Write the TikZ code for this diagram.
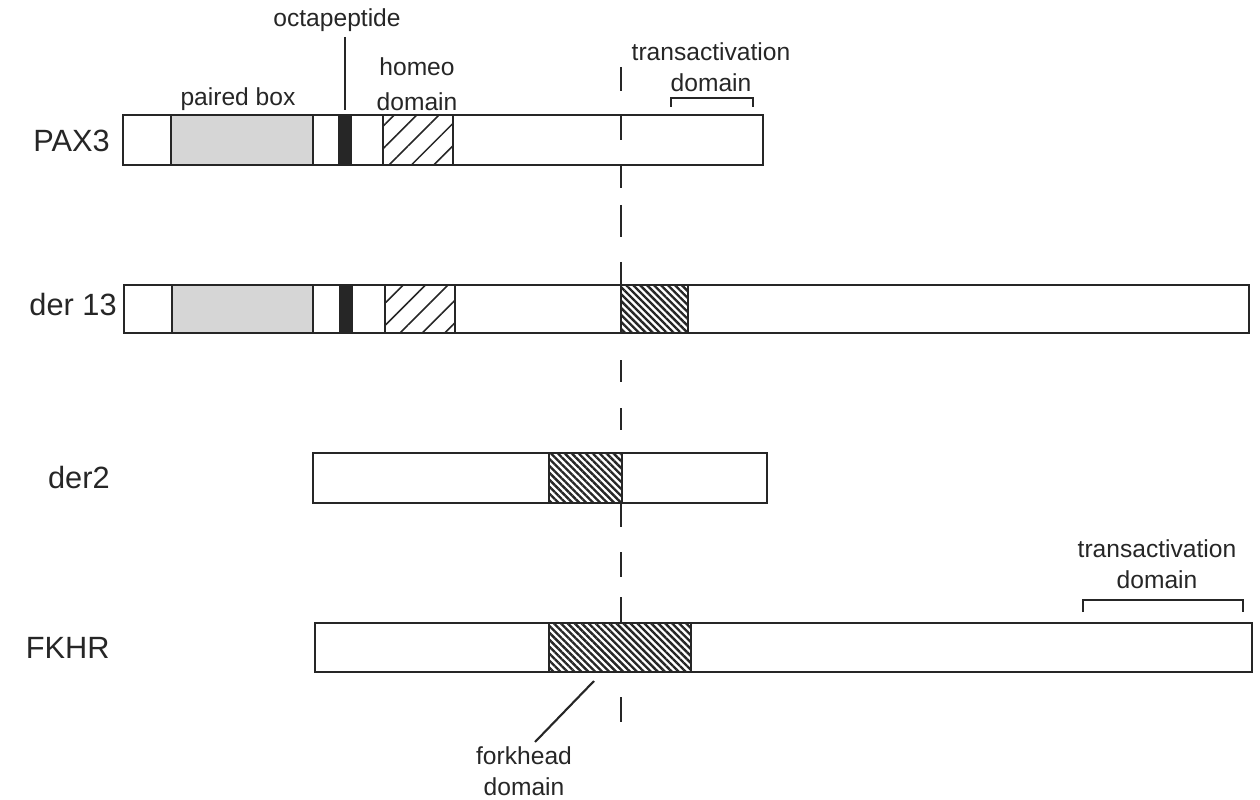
\documentclass[tikz,border=0pt]{standalone}
\usepackage{fontspec}
\setmainfont{Liberation Sans}
\usetikzlibrary{positioning,patterns.meta}
\definecolor{ink}{HTML}{262626}
\definecolor{boxgray}{HTML}{D6D6D6}
\tikzset{
    domainmap/.style={
        x=0.02cm, y=-0.02cm,
        % Stile per le barre delle proteine
        protbar/.style={draw=ink, line width=1.2pt},
        % Stile per il paired box (grigio)
        pairedbox/.style={draw=ink, line width=1.2pt, fill=boxgray},
        % Stile per l'octapeptide (nero)
        octabox/.style={draw=ink, line width=0.5pt, fill=ink},
        % Stile per l'homeo domain (tratteggio largo)
        homeobox/.style={draw=ink, line width=1.2pt,
                         pattern={Lines[angle=45,distance=9pt,line width=0.9pt]},
                         pattern color=ink},
        % Stile per il forkhead domain (tratteggio fitto)
        forkbox/.style={draw=ink, line width=1.2pt,
                        pattern={Lines[angle=-45,distance=2.8pt,line width=1.35pt]},
                        pattern color=ink},
        % Stile per i nomi e le etichette
        protname/.style={font=\fontsize{17.5}{21}\selectfont, text=ink,
                         anchor=east, inner sep=0pt},
        featlabel/.style={font=\fontsize{14}{17.5}\selectfont, text=ink,
                          align=center, inner sep=0pt},
        leader/.style={draw=ink, line width=1.2pt}
    }
}

\begin{document}
\begin{tikzpicture}[domainmap]
    \useasboundingbox (0,0) rectangle (1260,800);
    % PAX3
    \draw[pairedbox] (171,115) rectangle (313,165);
    \draw[octabox] (338,115) rectangle (351,165);
    \draw[homeobox] (383,115) rectangle (453,165);
    \draw[protbar] (123,115) rectangle (763,165);
    % der 13
    \draw[pairedbox] (172,285) rectangle (313,333);
    \draw[octabox] (339,285) rectangle (352,333);
    \draw[homeobox] (385,285) rectangle (455,333);
    \draw[forkbox] (621,285) rectangle (688,333);
    \draw[protbar] (124,285) rectangle (1249,333);
    % der2
    \draw[forkbox] (549,453) rectangle (622,503);
    \draw[protbar] (313,453) rectangle (767,503);
    % FKHR
    \draw[forkbox] (549,623) rectangle (691,672);
    \draw[protbar] (315,623) rectangle (1252,672);
    % linea di rottura
    \foreach \ya/\yb in {67/91, 115/140, 165/188, 205/237, 262/285,
                         360/382, 408/430, 503/527, 552/577, 597/623, 697/722}
        \draw[leader] (621,\ya) -- (621,\yb);

    \node[protname] (pax3) at (110,141) {PAX3};
    \node[protname] (der13) at (117,305) {der 13};
    \node[protname] (der2) at (110,478) {der2};
    \node[protname] (fkhr) at (110,648) {FKHR};

    \node[featlabel] (octa) at (337,20) {octapeptide};
    \node[featlabel] (paired) at (238,99) {paired box};
    \node[featlabel, font=\fontsize{14}{20}\selectfont] (homeo) at (417,84) {homeo\\domain};
    \node[featlabel] (transtop) at (711,67) {transactivation\\domain};
    \node[featlabel] (transfk) at (1157,564) {transactivation\\domain};
    \node[featlabel] (fork) at (524,771) {forkhead\\domain};

    \coordinate (octa-a) at (345,37);
    \coordinate (octa-b) at (345,110);
    \draw[leader] (octa-a) -- (octa-b);
    \coordinate (fork-a) at (594,681);
    \coordinate (fork-b) at (535,742);
    \draw[leader] (fork-a) -- (fork-b);
    \draw[leader] (671,107) |- (753,98) -- (753,107);
    \draw[leader] (1083,612) |- (1243,600) -- (1243,612);
\end{tikzpicture}
\end{document}
